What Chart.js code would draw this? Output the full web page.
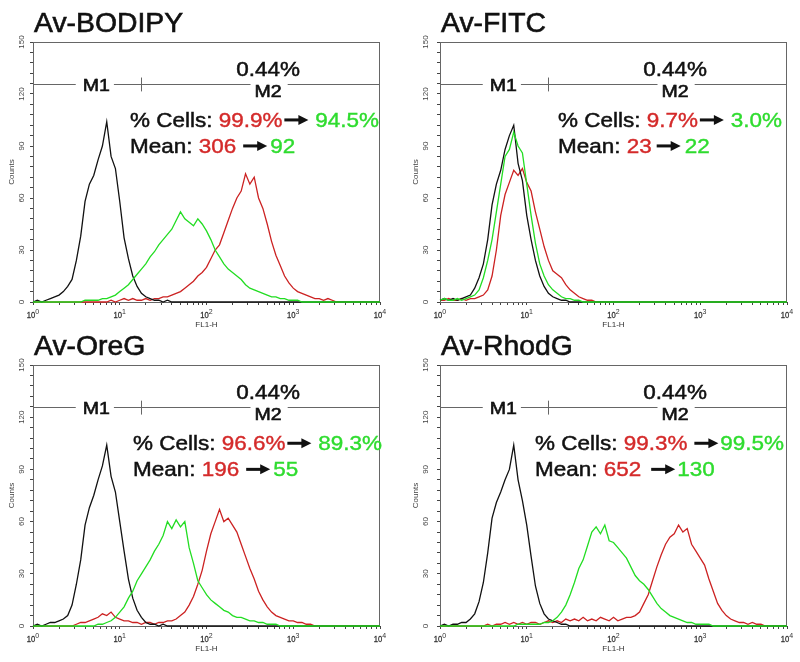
<!DOCTYPE html>
<html>
<head>
<meta charset="utf-8">
<title>Av histograms</title>
<script src="https://cdn.jsdelivr.net/npm/chart.js@4.4.0/dist/chart.umd.min.js"></script>
<style>
  html, body { margin: 0; padding: 0; background: #fff; }
  #wrap { position: relative; width: 800px; height: 662px; }
  .panel { position: absolute; width: 400px; height: 331px; }
</style>
</head>
<body>
<div id="wrap">
  <div class="panel" style="left:0;top:0"><canvas id="c0"></canvas></div>
  <div class="panel" style="left:400px;top:0"><canvas id="c1"></canvas></div>
  <div class="panel" style="left:0;top:331px"><canvas id="c2"></canvas></div>
  <div class="panel" style="left:400px;top:331px"><canvas id="c3"></canvas></div>
</div>
<script>
// channel positions, in decades of FL1-H (10^0 .. 10^4)
const channelDecades = [
  0.00, 0.05, 0.10, 0.15, 0.20, 0.25, 0.30, 0.35, 0.40, 0.45,
  0.50, 0.55, 0.60, 0.65, 0.70, 0.75, 0.80, 0.85, 0.90, 0.95,
  1.00, 1.05, 1.10, 1.15, 1.20, 1.25, 1.30, 1.35, 1.40, 1.45,
  1.50, 1.55, 1.60, 1.65, 1.70, 1.75, 1.80, 1.85, 1.90, 1.95,
  2.00, 2.05, 2.10, 2.15, 2.20, 2.25, 2.30, 2.35, 2.40, 2.45,
  2.50, 2.55, 2.60, 2.65, 2.70, 2.75, 2.80, 2.85, 2.90, 2.95,
  3.00, 3.05, 3.10, 3.15, 3.20, 3.25, 3.30, 3.35, 3.40, 3.45,
  3.50, 3.55, 3.60, 3.65, 3.70, 3.75, 3.80, 3.85, 3.90, 3.95,
  4.00
];

const titles = ["Av-BODIPY", "Av-FITC", "Av-OreG", "Av-RhodG"];
const cellsBefore = ["99.9%", "9.7%", "96.6%", "99.3%"];
const cellsAfter = ["94.5%", "3.0%", "89.3%", "99.5%"];
const meanBefore = ["306", "23", "196", "652"];
const meanAfter = ["92", "22", "55", "130"];
const gatePct = "0.44%";

const yTickLabels = [0, 30, 60, 90, 120, 150];
const xDecadeLabels = ["0", "1", "2", "3", "4"];

// Av-BODIPY
const blackBodipy = [
  0, 1, 0, 1, 2, 3, 4, 6, 9, 13,
  24, 38, 58, 68, 73, 82, 90, 104, 84, 77,
  58, 37, 25, 15, 9, 5, 3, 2, 1, 1,
  0, 1, 0, 0, 0, 0, 0, 0, 0, 0,
  0, 0, 0, 0, 0, 0, 0, 0, 0, 0,
  0, 0, 0, 0, 0, 0, 0, 0, 0, 0,
  0, 0, 0, 0, 0, 0, 0, 0, 0, 0,
  0, 0, 0, 0, 0, 0, 0, 0, 0, 0,
  0
];
const greenBodipy = [
  0, 0, 0, 0, 0, 0, 0, 0, 0, 0,
  0, 0, 1, 1, 1, 1, 2, 2, 3, 4,
  6, 8, 10, 13, 16, 19, 22, 26, 29, 33,
  36, 39, 42, 47, 52, 48, 46, 44, 48, 45,
  41, 36, 30, 26, 22, 19, 17, 15, 13, 10,
  8, 7, 6, 5, 4, 3, 3, 2, 2, 1,
  1, 1, 0, 0, 0, 0, 0, 0, 0, 0,
  0, 0, 0, 0, 0, 0, 0, 0, 0, 0,
  0
];
const redBodipy = [
  0, 0, 0, 0, 0, 0, 0, 0, 0, 0,
  0, 0, 0, 0, 0, 0, 0, 0, 1, 0,
  1, 2, 1, 2, 1, 1, 2, 1, 2, 2,
  3, 3, 4, 5, 6, 8, 10, 12, 15, 17,
  20, 25, 30, 33, 40, 47, 54, 60, 64, 74,
  68, 72, 60, 54, 45, 35, 27, 21, 15, 11,
  8, 6, 5, 4, 3, 2, 2, 1, 2, 1,
  0, 0, 0, 0, 0, 0, 0, 0, 0, 0,
  0
];

// Av-FITC
const blackFitc = [
  1, 2, 1, 2, 1, 2, 3, 4, 8, 14,
  22, 36, 56, 68, 76, 88, 96, 102, 80, 70,
  50, 36, 24, 15, 9, 5, 3, 2, 1, 1,
  0, 0, 0, 0, 0, 0, 0, 0, 0, 0,
  0, 0, 0, 0, 0, 0, 0, 0, 0, 0,
  0, 0, 0, 0, 0, 0, 0, 0, 0, 0,
  0, 0, 0, 0, 0, 0, 0, 0, 0, 0,
  0, 0, 0, 0, 0, 0, 0, 0, 0, 0,
  0
];
const greenFitc = [
  1, 2, 1, 1, 2, 1, 2, 3, 4, 7,
  14, 24, 36, 52, 68, 84, 88, 98, 90, 86,
  68, 50, 34, 22, 15, 10, 7, 5, 3, 2,
  2, 1, 1, 0, 0, 0, 0, 0, 0, 0,
  0, 0, 0, 0, 0, 0, 0, 0, 0, 0,
  0, 0, 0, 0, 0, 0, 0, 0, 0, 0,
  0, 0, 0, 0, 0, 0, 0, 0, 0, 0,
  0, 0, 0, 0, 0, 0, 0, 0, 0, 0,
  0
];
const redFitc = [
  1, 1, 2, 1, 1, 2, 1, 2, 2, 3,
  4, 7, 15, 30, 50, 62, 69, 76, 73, 77,
  69, 64, 52, 42, 32, 24, 18, 16, 14, 10,
  7, 5, 3, 2, 1, 1, 0, 0, 0, 0,
  0, 0, 0, 0, 0, 0, 0, 0, 0, 0,
  0, 0, 0, 0, 0, 0, 0, 0, 0, 0,
  0, 0, 0, 0, 0, 0, 0, 0, 0, 0,
  0, 0, 0, 0, 0, 0, 0, 0, 0, 0,
  0
];

// Av-OreG
const blackOreg = [
  0, 1, 0, 1, 2, 2, 3, 4, 6, 12,
  24, 38, 58, 68, 75, 84, 92, 104, 86, 77,
  60, 43, 27, 16, 9, 5, 2, 1, 1, 0,
  1, 0, 0, 0, 0, 0, 0, 0, 0, 0,
  0, 0, 0, 0, 0, 0, 0, 0, 0, 0,
  0, 0, 0, 0, 0, 0, 0, 0, 0, 0,
  0, 0, 0, 0, 0, 0, 0, 0, 0, 0,
  0, 0, 0, 0, 0, 0, 0, 0, 0, 0,
  0
];
const greenOreg = [
  0, 0, 0, 0, 0, 0, 0, 0, 0, 0,
  0, 0, 0, 0, 0, 1, 1, 2, 3, 5,
  8, 11, 16, 20, 26, 30, 34, 38, 43, 47,
  52, 60, 56, 61, 57, 60, 45, 36, 26, 22,
  18, 15, 13, 11, 9, 8, 6, 5, 5, 4,
  3, 3, 2, 2, 1, 1, 1, 0, 0, 0,
  0, 0, 0, 0, 0, 0, 0, 0, 0, 0,
  0, 0, 0, 0, 0, 0, 0, 0, 0, 0,
  0
];
const redOreg = [
  0, 0, 0, 0, 0, 0, 0, 0, 0, 0,
  1, 2, 2, 3, 4, 5, 7, 6, 8, 5,
  4, 3, 3, 2, 2, 1, 2, 2, 1, 2,
  2, 3, 3, 4, 6, 8, 12, 17, 24, 32,
  43, 53, 60, 67, 60, 62, 58, 54, 47, 40,
  33, 27, 20, 15, 11, 8, 6, 5, 4, 3,
  3, 2, 2, 1, 1, 0, 0, 0, 0, 0,
  0, 0, 0, 0, 0, 0, 0, 0, 0, 0,
  0
];

// Av-RhodG
const blackRhodg = [
  0, 1, 0, 1, 1, 2, 2, 4, 7, 14,
  25, 42, 62, 71, 77, 84, 90, 104, 84, 72,
  58, 40, 23, 13, 7, 4, 3, 2, 1, 1,
  0, 0, 0, 0, 0, 0, 0, 0, 0, 0,
  0, 0, 0, 0, 0, 0, 0, 0, 0, 0,
  0, 0, 0, 0, 0, 0, 0, 0, 0, 0,
  0, 0, 0, 0, 0, 0, 0, 0, 0, 0,
  0, 0, 0, 0, 0, 0, 0, 0, 0, 0,
  0
];
const greenRhodg = [
  0, 0, 0, 0, 0, 0, 0, 0, 0, 0,
  0, 0, 0, 0, 0, 0, 0, 0, 1, 1,
  1, 1, 1, 1, 2, 2, 3, 5, 8, 12,
  18, 25, 33, 38, 46, 54, 57, 53, 58, 49,
  48, 45, 42, 39, 34, 29, 26, 24, 21, 17,
  13, 10, 8, 6, 5, 4, 3, 2, 2, 1,
  1, 1, 1, 0, 0, 0, 0, 0, 0, 0,
  0, 0, 0, 0, 0, 0, 0, 0, 0, 0,
  0
];
const redRhodg = [
  0, 0, 0, 0, 0, 0, 0, 0, 0, 0,
  0, 1, 0, 1, 1, 2, 1, 2, 1, 2,
  1, 2, 2, 1, 2, 3, 2, 3, 2, 4,
  3, 4, 3, 5, 3, 4, 3, 5, 4, 3,
  5, 3, 4, 5, 5, 6, 8, 13, 18, 26,
  34, 41, 47, 51, 53, 58, 54, 56, 47, 43,
  39, 35, 27, 20, 13, 9, 6, 4, 3, 2,
  2, 1, 2, 1, 1, 0, 0, 0, 0, 0,
  0
];

const blackSeries = [blackBodipy, blackFitc, blackOreg, blackRhodg];
const greenSeries = [greenBodipy, greenFitc, greenOreg, greenRhodg];
const redSeries = [redBodipy, redFitc, redOreg, redRhodg];

// marker positions (decades / counts)
const m1Label = 0.73, m2Label = 2.71, markerSplit = 1.25, markerLevel = 126;

const RED = "#d42a2a", GREEN = "#2fdc2f";
const FONT = '"Liberation Sans", Arial, sans-serif';

// per panel layout in canvas pixels
const layout = [
  { top: 42, bottom: 29, left: 33, right: 20, yLab: 11, yTitle: 21, textX: 97, gapC: [2, 7], gapM: [7, 3] },
  { top: 42, bottom: 29, left: 40, right: 13, yLab: 14, yTitle: 24, textX: 118, gapC: [2, 7], gapM: [5, 4] },
  { top: 34, bottom: 36, left: 33, right: 20, yLab: 11, yTitle: 21, textX: 100, gapC: [2, 7], gapM: [7, 3] },
  { top: 34, bottom: 36, left: 40, right: 13, yLab: 14, yTitle: 24, textX: 95, gapC: [7, 2], gapM: [10, 2] }
];

function txt(ctx, s, x, y, font, color, sx, align, heavy) {
  ctx.save();
  ctx.font = font;
  ctx.fillStyle = color;
  ctx.strokeStyle = color;
  ctx.textBaseline = "alphabetic";
  ctx.textAlign = "left";
  const w = ctx.measureText(s).width * sx;
  const x0 = align === "center" ? x - w / 2 : x;
  ctx.translate(x0, y);
  ctx.scale(sx, 1);
  ctx.fillText(s, 0, 0);
  if (heavy) { ctx.lineWidth = heavy; ctx.strokeText(s, 0, 0); }
  ctx.restore();
  return w;
}

function arrow(ctx, x, y, len) {
  ctx.save();
  ctx.fillStyle = "#111";
  ctx.fillRect(x, y - 1.5, len - 8, 3);
  ctx.beginPath();
  ctx.moveTo(x + len - 10, y - 5);
  ctx.lineTo(x + len, y);
  ctx.lineTo(x + len - 10, y + 5);
  ctx.closePath();
  ctx.fill();
  ctx.restore();
}

function statLine(ctx, x, y, label, a, b, gap) {
  const f = "21px " + FONT, sx = 1.07;
  x += txt(ctx, label, x, y, f, "#111", sx, "left", 0.5);
  x += txt(ctx, a, x, y, f, RED, sx, "left", 0.4);
  x += gap[0];
  arrow(ctx, x, y - 7, 24);
  x += 24 + gap[1];
  txt(ctx, b, x, y, f, GREEN, sx, "left", 0.4);
}

function decoPlugin(i) {
  const L = layout[i];
  return {
    id: "deco" + i,
    beforeDatasetsDraw(chart) {
      const { ctx, chartArea: a } = chart;
      ctx.save();
      ctx.strokeStyle = "#666";
      ctx.lineWidth = 1;
      ctx.strokeRect(a.left + 0.5, a.top + 0.5, a.right - a.left - 1, a.bottom - a.top);
      ctx.restore();
    },
    afterDraw(chart) {
      const { ctx, chartArea: a } = chart;
      const X = d => chart.scales.x.getPixelForValue(Math.pow(10, d));
      const Y = c => chart.scales.y.getPixelForValue(c);

      txt(ctx, titles[i], a.left + 1, a.top - 10, "27px " + FONT, "#111", 1.05, "left", 0.6);

      // y tick labels, rotated
      ctx.save();
      ctx.fillStyle = "#444";
      ctx.font = "8px " + FONT;
      ctx.textAlign = "center";
      ctx.textBaseline = "middle";
      yTickLabels.forEach(v => {
        ctx.save();
        ctx.translate(a.left - L.yLab, Y(v));
        ctx.rotate(-Math.PI / 2);
        ctx.fillText(String(v), 0, 0);
        ctx.restore();
      });
      ctx.translate(a.left - L.yTitle, (a.top + a.bottom) / 2);
      ctx.rotate(-Math.PI / 2);
      ctx.fillText("Counts", 0, 0);
      ctx.restore();

      // x decade labels 10^n
      xDecadeLabels.forEach((e, k) => {
        const x = X(k);
        ctx.save();
        ctx.font = "9px " + FONT;
        const w1 = ctx.measureText("10").width * 0.85;
        ctx.font = "7px " + FONT;
        const w2 = ctx.measureText(e).width;
        ctx.restore();
        const s = x - (w1 + w2) / 2;
        txt(ctx, "10", s, a.bottom + 16, "9px " + FONT, "#333", 0.85, "left", 0.3);
        txt(ctx, e, s + w1, a.bottom + 12, "7px " + FONT, "#333", 1);
      });
      txt(ctx, "FL1-H", (a.left + a.right) / 2, a.bottom + 25, "7px " + FONT, "#333", 1.15, "center");

      // M1 / M2 marker
      const ly = Math.round(Y(markerLevel)) + 0.5;
      ctx.save();
      ctx.strokeStyle = "#666";
      ctx.lineWidth = 1;
      ctx.beginPath();
      ctx.moveTo(a.left, ly);
      ctx.lineTo(a.right, ly);
      [0, markerSplit].forEach(d => {
        const x = Math.round(X(d)) + 0.5;
        ctx.moveTo(x, Y(129.5));
        ctx.lineTo(x, Y(121.5));
      });
      ctx.stroke();
      ctx.restore();

      const mf = "17px " + FONT;
      ctx.save();
      ctx.font = mf;
      const w1 = ctx.measureText("M1").width * 1.15;
      const w2 = ctx.measureText("M2").width * 1.15;
      ctx.fillStyle = "#fff";
      ctx.fillRect(X(m1Label) - w1 / 2 - 7, ly - 3, w1 + 11, 6);
      ctx.fillRect(X(m2Label) - w2 / 2 - 4, ly - 3, w2 + 10, 6);
      ctx.restore();
      txt(ctx, "M1", X(m1Label), Y(122), mf, "#111", 1.15, "center", 0.6);
      txt(ctx, "M2", X(m2Label), Y(118.5), mf, "#111", 1.15, "center", 0.6);
      txt(ctx, gatePct, X(m2Label), Y(130.5), "21px " + FONT, "#111", 1.07, "center", 0.5);

      // statistics
      statLine(ctx, a.left + L.textX, Y(101), "% Cells: ", cellsBefore[i], cellsAfter[i], L.gapC);
      statLine(ctx, a.left + L.textX, Y(86), "Mean: ", meanBefore[i], meanAfter[i], L.gapM);
    }
  };
}

function series(values, color) {
  return {
    data: channelDecades.map((d, k) => ({ x: Math.pow(10, d), y: values[k] })),
    borderColor: color,
    borderWidth: 1.3,
    pointRadius: 0,
    tension: 0,
    fill: false,
    clip: false
  };
}

const xTicks = [];
[1, 10, 100, 1000].forEach(b => { for (let m = 1; m <= 9; m++) xTicks.push(b * m); });
xTicks.push(10000);
const yTicks = [];
for (let v = 0; v <= 150; v += 6) yTicks.push(v);

titles.forEach((t, i) => {
  const L = layout[i];
  new Chart(document.getElementById("c" + i), {
    type: "line",
    data: {
      datasets: [
        series(greenSeries[i], "#22dd22"),
        series(blackSeries[i], "#111111"),
        series(redSeries[i], "#cc2222")
      ]
    },
    options: {
      responsive: true,
      maintainAspectRatio: false,
      animation: false,
      events: [],
      layout: { padding: { left: 0, top: L.top, right: L.right, bottom: 0 } },
      plugins: { legend: { display: false }, tooltip: { enabled: false } },
      scales: {
        x: {
          type: "logarithmic",
          min: 1,
          max: 10000,
          afterBuildTicks: s => { s.ticks = xTicks.map(v => ({ value: v })); },
          afterFit: s => { s.height = L.bottom; },
          ticks: { display: false },
          grid: { drawOnChartArea: false, drawTicks: true, tickLength: 3, color: "#444" },
          border: { display: false }
        },
        y: {
          min: 0,
          max: 150,
          afterBuildTicks: s => { s.ticks = yTicks.map(v => ({ value: v })); },
          afterFit: s => { s.width = L.left; },
          ticks: { display: false },
          grid: { drawOnChartArea: false, drawTicks: true, tickLength: 3, color: "#444" },
          border: { display: false }
        }
      }
    },
    plugins: [decoPlugin(i)]
  });
});
</script>
</body>
</html>
